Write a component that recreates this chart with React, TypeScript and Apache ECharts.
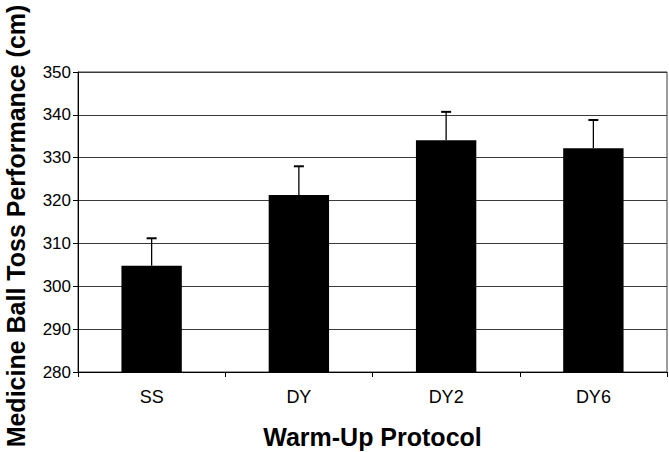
import React, { useEffect, useRef } from "react";
import * as echarts from "echarts";

const categories = ["SS", "DY", "DY2", "DY6"];
const means = [304.8, 321.3, 334.1, 332.2];
const errorTops = [311.2, 328.0, 340.7, 338.8];
const yTicks = { min: 280, max: 350, interval: 10 };

export default function App() {
  const ref = useRef<HTMLDivElement>(null);
  useEffect(() => {
    if (!ref.current) return;
    const chart = echarts.init(ref.current, undefined, { renderer: "svg" });
    const font = "Liberation Sans, Arial, sans-serif";
    chart.setOption({
      animation: false,
      backgroundColor: "#ffffff",
      grid: {
        left: 78,
        right: 2,
        top: 72,
        bottom: 80,
        containLabel: false,
        outerBoundsMode: "none",
        show: true,
        borderColor: "#3a3a3a",
        borderWidth: 1,
      },
      xAxis: {
        type: "category",
        data: categories,
        name: "Warm-Up Protocol",
        nameLocation: "middle",
        nameGap: 52,
        nameTextStyle: { fontFamily: font, fontWeight: "bold", fontSize: 25, color: "#000" },
        axisLine: { lineStyle: { color: "#000", width: 1 } },
        axisTick: { show: true, alignWithLabel: false, length: 5, lineStyle: { color: "#000" } },
        axisLabel: { fontFamily: font, fontSize: 18, color: "#000", margin: 16 },
      },
      yAxis: {
        type: "value",
        min: yTicks.min,
        max: yTicks.max,
        interval: yTicks.interval,
        name: "Medicine Ball Toss Performance (cm)",
        nameLocation: "middle",
        nameGap: 50,
        nameTextStyle: { fontFamily: font, fontWeight: "bold", fontSize: 25, color: "#000", padding: [0, 0, 0, -8] },
        axisLine: { show: true, lineStyle: { color: "#000", width: 1 } },
        axisTick: { show: true, length: 5, lineStyle: { color: "#000" } },
        axisLabel: { fontFamily: font, fontSize: 17, color: "#000", margin: 7 },
        splitLine: { show: true, lineStyle: { color: "#3a3a3a", width: 1.2 } },
      },
      series: [
        {
          type: "bar",
          data: means,
          barWidth: "41%",
          itemStyle: { color: "#000" },
          z: 2,
        },
        {
          type: "custom",
          z: 3,
          data: categories.map((_, i) => [i, means[i], errorTops[i]]),
          renderItem: (params: any, api: any) => {
            const x = api.value(0);
            const base = api.coord([x, api.value(1)]);
            const top = api.coord([x, api.value(2)]);
            const cap = 5;
            const style = { stroke: "#000", lineWidth: 1.3 };
            return {
              type: "group",
              children: [
                { type: "line", shape: { x1: base[0], y1: base[1], x2: top[0], y2: top[1] }, style },
                { type: "line", shape: { x1: top[0] - cap, y1: top[1], x2: top[0] + cap, y2: top[1] }, style: { stroke: "#000", lineWidth: 2 } },
              ],
            };
          },
        },
      ],
    });
    return () => chart.dispose();
  }, []);
  return <div ref={ref} style={{ width: 669, height: 452, position: "absolute", left: 0, top: 0 }} />;
}
